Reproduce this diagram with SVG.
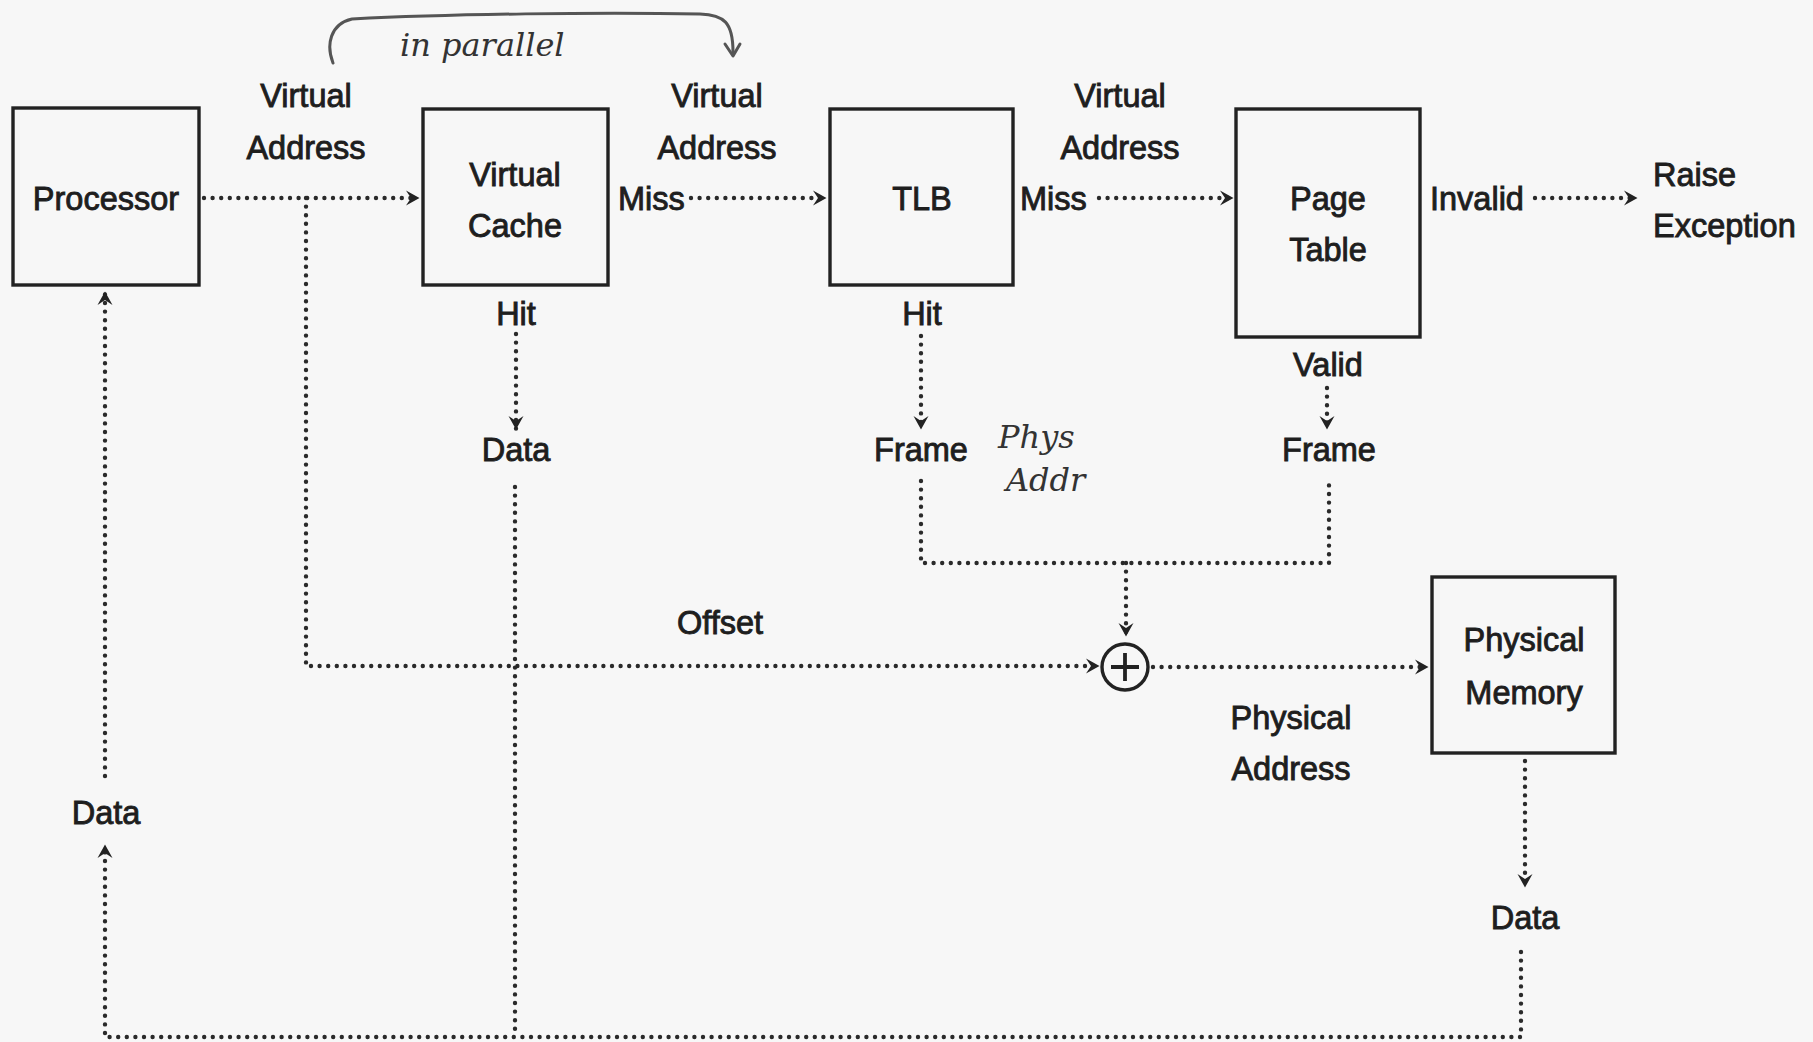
<svg xmlns="http://www.w3.org/2000/svg" width="1813" height="1042" viewBox="0 0 1813 1042">
<style>
.bg{fill:#f7f7f7}
.box{fill:none;stroke:#222;stroke-width:3.4}
.t{font-family:"Liberation Sans",Arial,sans-serif;font-size:32.5px;fill:#1e1e1e;text-anchor:middle;stroke:#1e1e1e;stroke-width:0.9}
.tl{text-anchor:start}
.dot{fill:none;stroke:#2a2a2a;stroke-width:4.4;stroke-dasharray:0 8.6;stroke-linecap:round}
.hand{font-family:"DejaVu Serif",serif;font-style:italic;fill:#333;font-size:32px}
.handline{fill:none;stroke:#555;stroke-width:3;stroke-linecap:round;stroke-linejoin:round}
</style>
<defs>
<marker id="ah" viewBox="0 0 18 18" markerWidth="18" markerHeight="18" refX="15" refY="9" orient="auto" markerUnits="userSpaceOnUse">
<path d="M2,1.5 L15.5,9 L2,16.5 L7,9 Z" fill="#222"/>
</marker>
</defs>
<rect class="bg" x="0" y="0" width="1813" height="1042"/>

<g id="connectors">
<path class="dot" d="M204,198 L419,198" marker-end="url(#ah)"/>
<path class="dot" d="M306,198 L306,666 L1099,666" marker-end="url(#ah)"/>
<path class="dot" d="M691,198 L826,198" marker-end="url(#ah)"/>
<path class="dot" d="M1099,198 L1233,198" marker-end="url(#ah)"/>
<path class="dot" d="M1535,198 L1637,198" marker-end="url(#ah)"/>
<path class="dot" d="M516,334 L516,429" marker-end="url(#ah)"/>
<path class="dot" d="M921,336 L921,429" marker-end="url(#ah)"/>
<path class="dot" d="M1327,388 L1327,429" marker-end="url(#ah)"/>
<path class="dot" d="M921,481 L921,563 L1329,563 L1329,481"/>
<path class="dot" d="M1126,563 L1126,636" marker-end="url(#ah)"/>
<path class="dot" d="M1153,667 L1428,667" marker-end="url(#ah)"/>
<path class="dot" d="M1525,761 L1525,887" marker-end="url(#ah)"/>
<path class="dot" d="M1521,952 L1521,1037 L105,1037 L105,845" marker-end="url(#ah)"/>
<path class="dot" d="M105,776 L105,292" marker-end="url(#ah)"/>
<path class="dot" d="M515,487 L515,1037"/>
</g>

<g id="processor">
<rect class="box" x="13" y="108" width="186" height="177"/>
<text class="t" x="106" y="210">Processor</text>
</g>
<g id="virtual-cache">
<rect class="box" x="423" y="109" width="185" height="176"/>
<text class="t" x="515" y="186">Virtual</text>
<text class="t" x="515" y="237">Cache</text>
</g>
<g id="tlb">
<rect class="box" x="830" y="109" width="183" height="176"/>
<text class="t" x="922" y="210">TLB</text>
</g>
<g id="page-table">
<rect class="box" x="1236" y="109" width="184" height="228"/>
<text class="t" x="1328" y="210">Page</text>
<text class="t" x="1328" y="261">Table</text>
</g>
<g id="physical-memory">
<rect class="box" x="1432" y="577" width="183" height="176"/>
<text class="t" x="1524" y="651">Physical</text>
<text class="t" x="1524" y="704">Memory</text>
</g>
<g id="adder">
<circle cx="1125" cy="667" r="23" fill="none" stroke="#222" stroke-width="3.4"/>
<path d="M1111,667 H1139 M1125,653 V681" stroke="#222" stroke-width="3.8" fill="none"/>
</g>
<g id="raise-exception">
<text class="t tl" x="1653" y="186">Raise</text>
<text class="t tl" x="1653" y="237">Exception</text>
</g>

<g id="labels">
<text class="t" x="306" y="107">Virtual</text>
<text class="t" x="306" y="159">Address</text>
<text class="t" x="717" y="107">Virtual</text>
<text class="t" x="717" y="159">Address</text>
<text class="t tl" x="618" y="210">Miss</text>
<text class="t" x="1120" y="107">Virtual</text>
<text class="t" x="1120" y="159">Address</text>
<text class="t tl" x="1020" y="210">Miss</text>
<text class="t tl" x="1430" y="210">Invalid</text>
<text class="t" x="516" y="325">Hit</text>
<text class="t" x="516" y="461">Data</text>
<text class="t" x="922" y="325">Hit</text>
<text class="t" x="921" y="461">Frame</text>
<text class="t" x="1328" y="376">Valid</text>
<text class="t" x="1329" y="461">Frame</text>
<text class="t" x="720" y="634">Offset</text>
<text class="t" x="1291" y="729">Physical</text>
<text class="t" x="1291" y="780">Address</text>
<text class="t" x="106" y="824">Data</text>
<text class="t" x="1525" y="929">Data</text>
</g>

<g id="annotations">
<path class="handline" d="M333,63 C326,45 330,24 352,19 C450,14 600,12 700,14 C724,15 733,22 733,52"/>
<path class="handline" d="M725,44 L733,56 L740,44"/>
<text class="hand" x="400" y="56">in parallel</text>
<text class="hand" x="998" y="448" font-size="36">Phys</text>
<text class="hand" x="1006" y="491" font-size="36">Addr</text>
</g>
</svg>
